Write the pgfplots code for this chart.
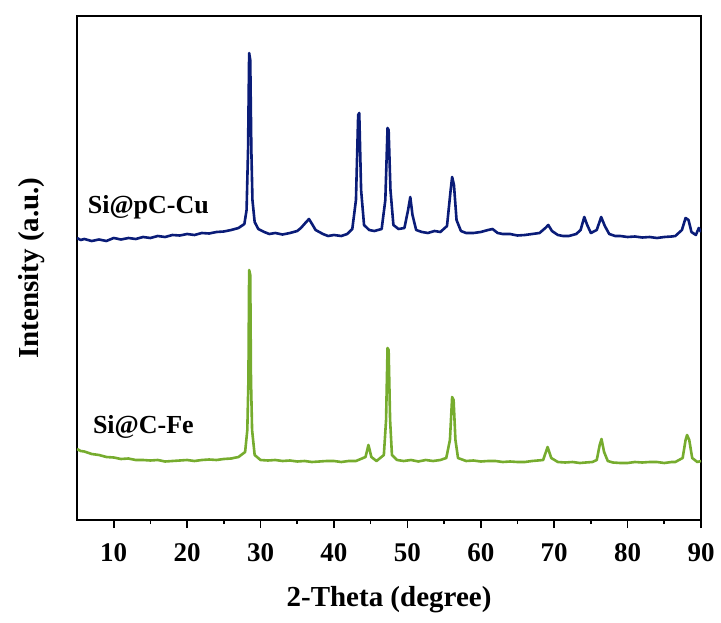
\documentclass[border=0pt]{standalone}
\usepackage{pgfplots}
\pgfplotsset{compat=1.18}
\usepackage{fontspec}
\setmainfont{Liberation Serif}

\definecolor{cublue}{RGB}{10,28,120}
\definecolor{fegreen}{RGB}{118,172,46}

\begin{document}
\begin{tikzpicture}
\begin{axis}[
    scale only axis,
    width=624pt, height=504pt,
    xmin=5, xmax=90,
    ymin=0, ymax=504,
    xtick={10,20,...,90},
    minor x tick num=1,
    ytick=\empty,
    xtick pos=bottom,
    tick align=outside,
    major tick length=8pt,
    minor tick length=4pt,
    every tick/.style={black, line width=1.6pt},
    axis line style={line width=1.6pt},
    /pgf/number format/assume math mode=true,
    ticklabel style={font=\fontsize{27}{31}\selectfont\bfseries},
    xticklabel style={yshift=-12pt},
    xlabel={2-Theta (degree)},
    ylabel={Intensity (a.u.)},
    label style={font=\fontsize{29}{33}\selectfont\bfseries},
    xlabel style={at={(axis description cs:0.5,-0.159)}, anchor=center},
    ylabel style={at={(axis description cs:-0.072,0.5)}, anchor=center},
    clip=true,
]

% Si@pC-Cu
\addplot[cublue, line width=2.6pt, line join=round] coordinates {
    (5.0,282) (5.5,280) (6,281) (7,279) (8,280.5) (9,279) (10,282) (11,280.5)
    (12,282) (13,281) (14,283) (15,282) (16,284) (17,283) (18,285) (19,284.5)
    (20,286) (21,285) (22,287) (23,286.5) (24,288) (25,288.5) (26,290) (27,292)
    (27.8,296) (28.1,310) (28.3,370) (28.45,467) (28.6,460) (28.75,370)
    (28.9,320) (29.2,298) (29.7,291) (30.5,288) (31.2,286) (32,287) (33,285.5)
    (34,287) (35,289) (35.5,292) (36.1,297) (36.6,301) (37.1,295) (37.5,290)
    (38.5,286) (39.2,284) (40,285) (41,284) (41.8,286) (42.5,291) (43.0,320)
    (43.3,405) (43.45,407) (43.7,330) (44.1,295) (44.8,290) (45.5,289)
    (46.5,291) (47.0,320) (47.3,392) (47.45,390) (47.7,330) (48.1,295)
    (48.8,291) (49.6,292) (50.1,310) (50.4,323) (50.7,305) (51.2,290)
    (52.0,288) (52.8,287) (53.7,289) (54.5,288) (55.4,294) (55.9,330)
    (56.1,343) (56.35,335) (56.7,300) (57.3,289) (58,287) (59,287) (60,288)
    (61,290) (61.6,291) (62.3,287) (63,286) (64,286) (65,284.5) (66,285)
    (67,286) (68,287) (68.8,292) (69.2,295) (69.7,289) (70.5,285) (71.2,284)
    (72,284) (73,286) (73.6,290) (74.1,303) (74.5,295) (75,287) (75.8,290)
    (76.4,303) (76.9,294) (77.5,286) (78.3,284) (79,284) (80,283) (81,283.5)
    (82,282.5) (83,283) (84,282) (85,283) (86,283.5) (86.5,284) (87.4,290)
    (87.9,302) (88.3,300) (88.7,288) (89.3,285) (89.7,292) (90,288)
};

% Si@C-Fe
\addplot[fegreen, line width=2.6pt, line join=round] coordinates {
    (5.0,71) (5.5,69) (6,68.5) (7,66) (8,65) (9,63) (10,62.5) (11,61)
    (12,61.5) (13,60) (14,60) (15,59.5) (16,60) (17,58.5) (18,59) (19,59.5)
    (20,60) (21,59) (22,60) (23,60.5) (24,60) (25,61) (26,61.5) (27,63)
    (27.9,68) (28.2,90) (28.35,140) (28.45,250) (28.6,245) (28.7,140)
    (28.85,90) (29.2,65) (30,60) (31,59.5) (32,60) (33,59) (34,59.5)
    (35,58.5) (36,59) (37,58) (38,58.5) (39,59) (40,59) (41,58) (42,59)
    (43,59) (44.3,63) (44.7,75) (45.1,63) (45.8,59) (46.8,65) (47.1,100)
    (47.3,172) (47.45,170) (47.65,100) (47.9,65) (48.6,60) (49.5,59)
    (50.5,60) (51.5,58.5) (52.5,60) (53.5,59) (54.5,60) (55.3,62) (55.8,80)
    (56.1,123) (56.3,120) (56.55,80) (56.9,62) (58,59) (59,59.5) (60,58.5)
    (61,59) (62,59) (63,58) (64,58.5) (65,58) (66,58) (67,59) (68.5,60)
    (69.1,73) (69.6,62) (70.5,58) (71.5,57.5) (72.5,58) (73.5,57) (74.3,57.5)
    (75.2,58) (75.8,60) (76.2,75) (76.45,81) (76.8,68) (77.3,59) (78,57.5)
    (79,57) (80,57) (81,58) (82,57.5) (83,58) (84,58) (85,57) (86,58)
    (86.5,58) (87.5,62) (87.9,80) (88.1,85) (88.4,80) (88.8,62) (89.5,58)
    (90,59)
};

\node[anchor=west, font=\fontsize{26}{30}\selectfont\bfseries]
    at (axis cs:6.0,313) {Si@pC-Cu};
\node[anchor=west, font=\fontsize{26}{30}\selectfont\bfseries]
    at (axis cs:6.7,93) {Si@C-Fe};
\end{axis}
\path (-77pt,-102pt) rectangle (644pt,520pt);
\end{tikzpicture}
\end{document}
